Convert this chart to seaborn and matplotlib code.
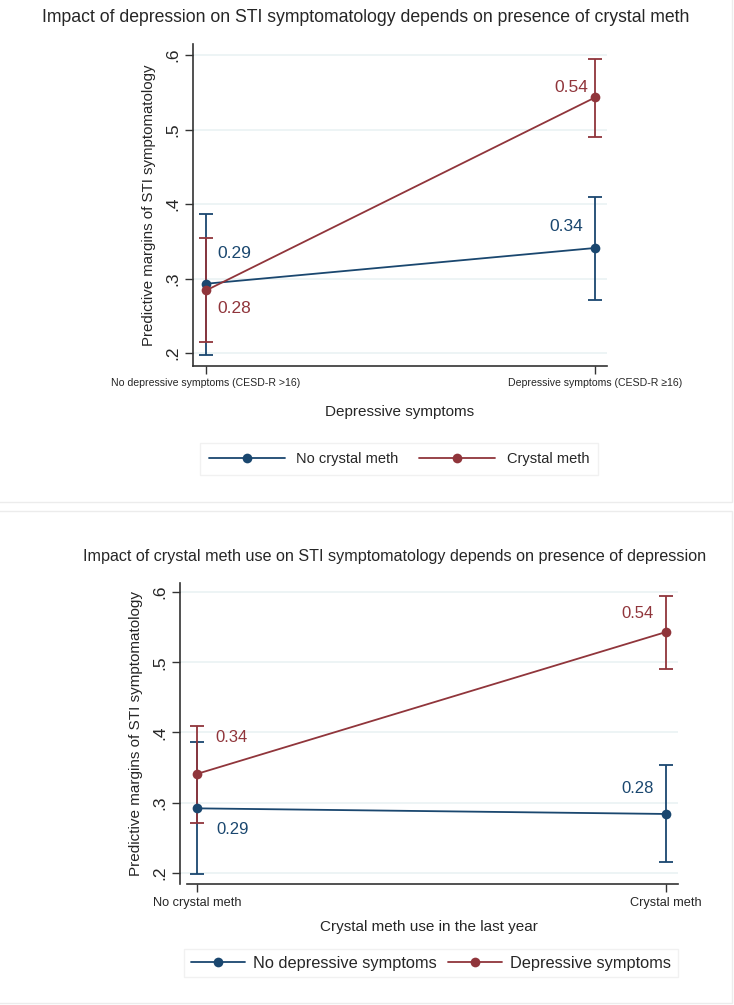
import matplotlib
matplotlib.use("Agg")
import matplotlib.pyplot as plt
from matplotlib.patches import Rectangle
import numpy as np
import pandas as pd
import seaborn as sns

NAVY = "#1a476f"
MAROON = "#90353b"
GRID = "#eaf2f3"

# ---- panel 1: depression on x, crystal meth as groups
dep_ticks = ["No depressive symptoms (CESD-R >16)", "Depressive symptoms (CESD-R \u226516)"]
meth_names = ["No crystal meth", "Crystal meth"]
no_meth_margin = [0.293, 0.341]
no_meth_lo = [0.198, 0.271]
no_meth_hi = [0.386, 0.409]
meth_margin = [0.284, 0.543]
meth_lo = [0.215, 0.490]
meth_hi = [0.354, 0.594]

# ---- panel 2: crystal meth on x, depression as groups
meth_ticks = ["No crystal meth", "Crystal meth"]
dep_names = ["No depressive symptoms", "Depressive symptoms"]
no_dep_margin = [0.292, 0.284]
no_dep_lo = [0.198, 0.215]
no_dep_hi = [0.386, 0.354]
dep_margin = [0.341, 0.543]
dep_lo = [0.271, 0.490]
dep_hi = [0.409, 0.594]

y_ticks = [0.2, 0.3, 0.4, 0.5, 0.6]
y_tick_labels = [".2", ".3", ".4", ".5", ".6"]

sns.set_theme(style="white")
plt.rcParams["font.family"] = ["Liberation Sans", "DejaVu Sans"]

W, H = 734, 1005
fig = plt.figure(figsize=(W / 100, H / 100), dpi=100)


def px_axes(left, top, right, bottom):
    return fig.add_axes([left / W, 1 - bottom / H, (right - left) / W, (bottom - top) / H])


def draw_panel(ax, names, margins, los, his, offsets, xlim, ylim, fs, spine_gap=0.0):
    rows = []
    for name, m in zip(names, margins):
        for i, v in enumerate(m):
            rows.append({"x": i, "margin": v, "group": name})
    df = pd.DataFrame(rows)
    colors = [NAVY, MAROON]
    for m, lo, hi, c in zip(margins, los, his, colors):
        ax.errorbar([0, 1], m, yerr=[np.array(m) - np.array(lo), np.array(hi) - np.array(m)],
                    fmt="none", ecolor=c, elinewidth=1.3, capsize=5, capthick=1.3, zorder=2)
    sns.lineplot(data=df, x="x", y="margin", hue="group", hue_order=names,
                 palette=colors, marker="o", markersize=7, markeredgewidth=0,
                 linewidth=1.3, ax=ax, zorder=3)
    for m, c, offs in zip(margins, colors, offsets):
        for i, v in enumerate(m):
            ax.annotate(f"{v:.2f}", (i, v), xytext=offs[i], textcoords="offset pixels",
                        ha="center", va="center", color=c, fontsize=fs)
    ax.set_xlim(*xlim)
    ax.set_ylim(*ylim)
    ax.set_yticks(y_ticks)
    ax.set_yticklabels(y_tick_labels, rotation=90, va="center")
    ax.set_xticks([0, 1])
    ax.grid(axis="y", color=GRID, linewidth=1.2)
    ax.grid(axis="x", visible=False)
    for s in ["top", "right"]:
        ax.spines[s].set_visible(False)
    for s in ["left", "bottom"]:
        ax.spines[s].set_color("#333333")
        ax.spines[s].set_linewidth(1.2)
    if spine_gap:
        ax.spines["bottom"].set_bounds(xlim[0] + spine_gap, xlim[1])
    ax.tick_params(axis="both", direction="out", length=6, width=1, color="#333333",
                   left=True, bottom=True, pad=3)
    handles, labels = ax.get_legend_handles_labels()
    ax.get_legend().remove()
    return handles, labels


# outer panel borders
fig.patches.append(Rectangle((-2 / W, 1 - 502 / H), 734 / W, 510 / H, transform=fig.transFigure,
                             fill=False, edgecolor="#ececec", linewidth=1))
fig.patches.append(Rectangle((-2 / W, 1 - 1003 / H), 734 / W, 492 / H, transform=fig.transFigure,
                             fill=False, edgecolor="#ececec", linewidth=1))

# ---- top panel
ax1 = px_axes(193, 44, 607, 366)
h1, l1 = draw_panel(ax1, meth_names, [no_meth_margin, meth_margin], [no_meth_lo, meth_lo],
                    [no_meth_hi, meth_hi],
                    [[(28, 30), (-29, 21)], [(28, -18), (-24, 10)]],
                    (-0.0334, 1.0308), (0.1826, 0.6148), 12.5)
ax1.set_xticklabels(dep_ticks, fontsize=7.6)
ax1.tick_params(axis="y", labelsize=12.5)
ax1.set_xlabel("Depressive symptoms", fontsize=11, labelpad=12)
ax1.set_ylabel("Predictive margins of STI symptomatology", fontsize=10.8, labelpad=7)
fig.text(366 / W, 1 - 17 / H, "Impact of depression on STI symptomatology depends on presence of crystal meth",
         ha="center", va="center", fontsize=12.7)
fig.legend(h1, l1, loc="center", bbox_to_anchor=(200 / W, 1 - 476 / H, 398 / W, 34 / H),
           mode="expand", ncol=2, fontsize=10.5, frameon=True, fancybox=False,
           edgecolor="#eeeeee", handlelength=5.2, borderaxespad=0, borderpad=0.6)

# ---- bottom panel
ax2 = px_axes(180, 583, 678, 884)
h2, l2 = draw_panel(ax2, dep_names, [no_dep_margin, dep_margin], [no_dep_lo, dep_lo],
                    [no_dep_hi, dep_hi],
                    [[(36, -21), (-28, 25)], [(35, 36), (-28, 19)]],
                    (-0.036, 1.0256), (0.1843, 0.6128), 12, spine_gap=0.015)
ax2.set_xticklabels(meth_ticks, fontsize=9.2)
ax2.tick_params(axis="y", labelsize=12.5)
ax2.set_xlabel("Crystal meth use in the last year", fontsize=11, labelpad=8)
ax2.set_ylabel("Predictive margins of STI symptomatology", fontsize=11, labelpad=7)
fig.text(395 / W, 1 - 556 / H, "Impact of crystal meth use on STI symptomatology depends on presence of depression",
         ha="center", va="center", fontsize=11.6)
fig.legend(h2, l2, loc="center", bbox_to_anchor=(431 / W, 1 - 963 / H),
           ncol=2, fontsize=11.8, frameon=True, fancybox=False,
           edgecolor="#eeeeee", handlelength=3.3, handletextpad=0.5, borderaxespad=0,
           borderpad=0.4, columnspacing=0.7)

fig.savefig("out.png", dpi=100, facecolor="white")
